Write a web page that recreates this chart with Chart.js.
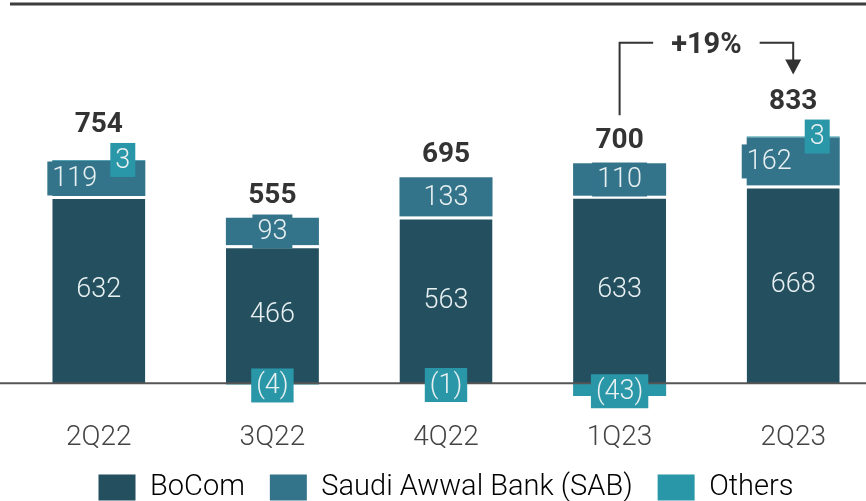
<!DOCTYPE html>
<html>
<head>
<meta charset="utf-8">
<script src="https://cdn.jsdelivr.net/npm/chart.js@4.4.0/dist/chart.umd.min.js"></script>
<style>
html, body { margin: 0; padding: 0; background: #fff; overflow: hidden; }
#wrap { width: 881px; height: 512px; position: relative; }
</style>
</head>
<body>
<div id="wrap"><canvas id="chart"></canvas></div>
<script>
// data
const quarters = ['2Q22', '3Q22', '4Q22', '1Q23', '2Q23'];
const bocom = [632, 466, 563, 633, 668];
const sab = [119, 93, 133, 110, 162];
const others = [3, -4, -1, -43, 3];
const totals = [754, 555, 695, 700, 833];
const growthLabel = '+19%';

const colBocom = '#234f5f';
const colSab = '#34748b';
const colOthers = '#2a97a8';
const txtLight = '#e8f0f2';

const fmt = v => v < 0 ? '(' + Math.abs(v) + ')' : String(v);

// value labels, totals, zero line, growth bracket
const labelPlugin = {
    id: 'labels',
    afterDatasetsDraw(chart) {
        const ctx = chart.ctx;
        const y = chart.scales.y;
        const zero = y.getPixelForValue(0);
        ctx.save();

        ctx.strokeStyle = '#555';
        ctx.lineWidth = 2;
        ctx.beginPath();
        ctx.moveTo(0, zero);
        ctx.lineTo(chart.width, zero);
        ctx.stroke();

        ctx.strokeStyle = '#3c3c3c';
        ctx.lineWidth = 3;
        ctx.beginPath();
        ctx.moveTo(10, 4);
        ctx.lineTo(chart.width, 4);
        ctx.stroke();

        ctx.textAlign = 'center';
        ctx.textBaseline = 'middle';
        const box = (txt, cx, cy, color) => {
            ctx.font = '300 27px Roboto';
            const w = ctx.measureText(txt).width + 10;
            ctx.fillStyle = color;
            ctx.fillRect(cx - w / 2, cy - 17, w, 34);
            ctx.fillStyle = txtLight;
            ctx.fillText(txt, cx, cy + 1);
        };

        const labelY = [];
        quarters.forEach((q, i) => {
            const b = chart.getDatasetMeta(0).data[i];
            const s = chart.getDatasetMeta(1).data[i];
            const o = chart.getDatasetMeta(2).data[i];
            const shift = others[i] > 0 ? 24 : 0;

            ctx.font = '300 27px Roboto';
            ctx.fillStyle = txtLight;
            ctx.fillText(fmt(bocom[i]), b.x, (b.y + b.base) / 2 + 1);
            box(fmt(sab[i]), s.x - shift, (s.y + s.base) / 2, colSab);
            if (others[i] > 0) {
                box(fmt(others[i]), o.x + shift, o.y, colOthers);
            } else {
                box(fmt(others[i]), o.x, (o.y + o.base) / 2 + 1.5, colOthers);
            }

            const top = y.getPixelForValue(bocom[i] + sab[i] + Math.max(others[i], 0));
            const ty = top - (others[i] > 0 ? 35 : 22);
            labelY.push(ty);
            ctx.font = 'bold 28px Roboto';
            ctx.fillStyle = '#333';
            ctx.fillText(String(totals[i]), b.x, ty);
        });

        // growth bracket 1Q23 -> 2Q23
        const x1 = chart.getDatasetMeta(0).data[3].x;
        const x2 = chart.getDatasetMeta(0).data[4].x;
        const yb = y.getPixelForValue(1150);
        const mid = (x1 + x2) / 2;
        ctx.font = 'bold 29px Roboto';
        const tw = ctx.measureText(growthLabel).width;
        const tip = labelY[4] - 27;
        ctx.strokeStyle = '#333';
        ctx.lineWidth = 2;
        ctx.beginPath();
        ctx.moveTo(x1, labelY[3] - 26);
        ctx.lineTo(x1, yb);
        ctx.lineTo(mid - tw / 2 - 18, yb);
        ctx.moveTo(mid + tw / 2 + 18, yb);
        ctx.lineTo(x2, yb);
        ctx.lineTo(x2, tip - 12);
        ctx.stroke();
        ctx.fillStyle = '#333';
        ctx.beginPath();
        ctx.moveTo(x2 - 8, tip - 15);
        ctx.lineTo(x2 + 8, tip - 15);
        ctx.lineTo(x2, tip);
        ctx.closePath();
        ctx.fill();
        ctx.fillText(growthLabel, mid, yb + 3);

        ctx.restore();
    }
};

const ctx = document.getElementById('chart').getContext('2d');
const chart = new Chart(ctx, {
    type: 'bar',
    data: {
        labels: quarters,
        datasets: [
            {
                label: 'BoCom',
                data: bocom,
                backgroundColor: colBocom,
                borderColor: '#fff',
                borderWidth: { top: 3, left: 0, right: 0, bottom: 0 },
                borderSkipped: 'start'
            },
            {
                label: 'Saudi Awwal Bank (SAB)',
                data: sab,
                backgroundColor: colSab,
                borderWidth: 0
            },
            {
                label: 'Others',
                data: others,
                backgroundColor: colOthers,
                borderWidth: 0
            }
        ]
    },
    options: {
        responsive: true,
        maintainAspectRatio: false,
        animation: false,
        layout: { padding: { top: 13, left: 12, right: 1, bottom: 0 } },
        datasets: {
            bar: { barPercentage: 0.536, categoryPercentage: 1 }
        },
        scales: {
            x: {
                stacked: true,
                offset: true,
                grid: { display: false, drawTicks: false },
                border: { display: false },
                ticks: {
                    color: '#444',
                    padding: 8,
                    font: { family: 'Roboto', size: 28, weight: '300' }
                },
                afterFit: scale => { scale.height = 35; }
            },
            y: {
                stacked: true,
                display: false,
                min: -100,
                max: 1250
            }
        },
        plugins: {
            tooltip: { enabled: false },
            legend: {
                position: 'bottom',
                labels: {
                    boxWidth: 37,
                    boxHeight: 26,
                    padding: 25,
                    color: '#444',
                    font: { family: 'Roboto', size: 29, weight: '300' },
                    generateLabels: c => c.data.datasets.map((d, i) => ({
                        text: d.label,
                        fillStyle: d.backgroundColor,
                        strokeStyle: d.backgroundColor,
                        lineWidth: 0,
                        datasetIndex: i
                    }))
                }
            }
        }
    },
    plugins: [labelPlugin]
});
</script>
</body>
</html>
